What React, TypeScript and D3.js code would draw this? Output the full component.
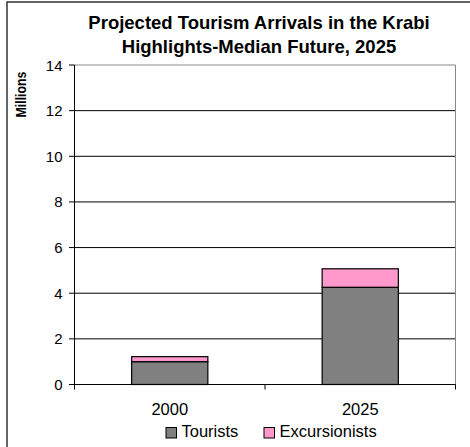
import React from "react";
import * as d3 from "d3";

const categories = ["2000", "2025"];
const tourists = [1.0, 4.26];
const excursionists = [0.22, 0.81];
const yTicks = [0, 2, 4, 6, 8, 10, 12, 14];
const seriesNames = ["Tourists", "Excursionists"];
const seriesColors = ["#808080", "#FF99CC"];
const titleLines = ["Projected Tourism Arrivals in the Krabi", "Highlights-Median Future, 2025"];

export default function App() {
  const W = 470, H = 447;
  const left = 74.5, right = 455.5, top = 65, bottom = 384.5;
  const y = d3.scaleLinear().domain([0, 14]).range([bottom, top]);
  const x = d3.scaleBand().domain(categories).range([left, right]).paddingInner(0).paddingOuter(0);
  const bw = x.bandwidth() * 0.4;
  const font = "Liberation Sans, Arial, sans-serif";
  const stacked = categories.map((c, i) => ({ c, t: tourists[i], e: excursionists[i] }));

  return (
    <svg width={W} height={H} style={{ position: "absolute", left: 0, top: 0, background: "#fff" }} fontFamily={font}>
      <rect x={7} y={2} width={480} height={470} fill="#fff" stroke="#333" strokeWidth={1.5} />
      {titleLines.map((t, i) => (
        <text key={i} x={259} y={29 + i * 24} textAnchor="middle" fontWeight="bold" fontSize={18.5} fill="#000">{t}</text>
      ))}
      <text transform={`translate(25.5,94.5) rotate(-90)`} textAnchor="middle" fontWeight="bold" fontSize={15.5} textLength={46} lengthAdjust="spacingAndGlyphs" fill="#000">Millions</text>
      {/* gridlines */}
      {yTicks.filter(v => v > 0 && v < 14).map(v => (
        <line key={v} x1={left} x2={right} y1={y(v)} y2={y(v)} stroke="#000" strokeWidth={1} />
      ))}
      {/* plot border top & right */}
      <line x1={left} x2={right} y1={y(14)} y2={y(14)} stroke="#888" strokeWidth={1} />
      <line x1={right} x2={right} y1={y(14)} y2={bottom} stroke="#888" strokeWidth={1} />
      {/* bars */}
      {stacked.map(d => {
        const cx = (x(d.c) as number) + x.bandwidth() / 2;
        return (
          <g key={d.c}>
            <rect x={cx - bw / 2} y={y(d.t)} width={bw} height={y(0) - y(d.t)} fill={seriesColors[0]} stroke="#000" strokeWidth={1.2} />
            <rect x={cx - bw / 2} y={y(d.t + d.e)} width={bw} height={y(d.t) - y(d.t + d.e)} fill={seriesColors[1]} stroke="#000" strokeWidth={1.2} />
          </g>
        );
      })}
      {/* y axis */}
      <line x1={left} x2={left} y1={top} y2={bottom} stroke="#000" strokeWidth={1} />
      {yTicks.map(v => (
        <g key={v}>
          <line x1={left - 5.5} x2={left} y1={y(v)} y2={y(v)} stroke="#000" />
          <text x={62.5} y={y(v) + 5.5} textAnchor="end" fontSize={15} fill="#000">{v}</text>
        </g>
      ))}
      {/* x axis */}
      <line x1={left} x2={right} y1={bottom} y2={bottom} stroke="#000" strokeWidth={1.2} />
      {[left, left + x.bandwidth(), right].map((px, i) => (
        <line key={i} x1={px} x2={px} y1={bottom} y2={bottom + 5} stroke="#000" />
      ))}
      {categories.map(c => (
        <text key={c} x={(x(c) as number) + x.bandwidth() / 2} y={415} textAnchor="middle" fontSize={16.5} fill="#000">{c}</text>
      ))}
      {/* legend */}
      {seriesNames.map((n, i) => {
        const lx = i === 0 ? 166 : 264;
        return (
          <g key={n}>
            <rect x={lx} y={427.5} width={10.5} height={10.5} fill={seriesColors[i]} stroke="#000" strokeWidth={1} />
            <text x={lx + 15.5} y={437} fontSize={16.5} fill="#000">{n}</text>
          </g>
        );
      })}
    </svg>
  );
}
